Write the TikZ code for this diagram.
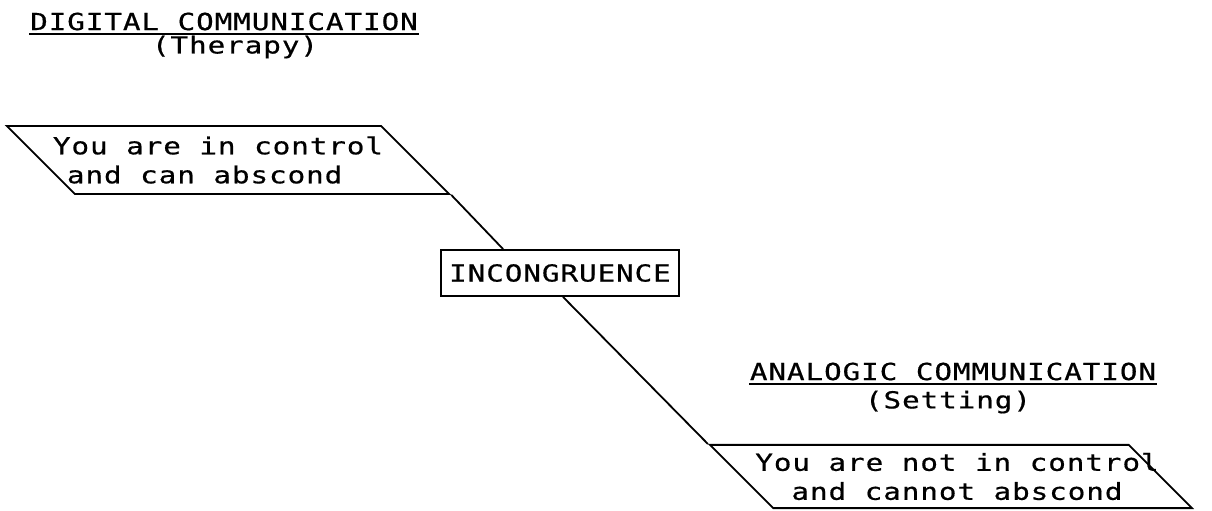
\documentclass[tikz,border=0pt]{standalone}
\usepackage{fontspec}
\newfontfamily\dotfont{DejaVu Sans Mono}[FakeStretch=1.25,LetterSpace=4,FakeBold=0.6]
\usetikzlibrary{shapes.geometric,calc}

\begin{document}
\begin{tikzpicture}[x=0.5pt,y=-0.5pt,line width=0.9pt,
  every node/.style={font=\dotfont\fontsize{11.7}{14.5}\selectfont,inner sep=0pt},
  slab/.style={draw,trapezium,trapezium left angle=135,trapezium right angle=45,
    trapezium stretches body}]
\useasboundingbox (0,0) rectangle (1212,510);

% the two headings, underlined
\node (dig) [inner ysep=1.5pt] at (224,21.5) {DIGITAL COMMUNICATION};
\draw[line width=1.1pt] (dig.south west) -- (dig.south east);
\node (ther) at (235,47) {(Therapy)};
\node (ana) [inner ysep=1.5pt] at (953,371.5) {ANALOGIC COMMUNICATION};
\draw[line width=1.1pt] (ana.south west) -- (ana.south east);
\node (set) at (948,402) {(Setting)};

% the two messages
\node (you) [slab,inner xsep=-11pt,inner ysep=5.2pt,align=left] at (228,160)
  {You are in control\hspace*{10pt}\\\hspace*{7pt}and can abscond};
\node (notyou) [slab,inner xsep=-15pt,inner ysep=4pt,align=center] at (951,476.5)
  {\hspace*{6pt}You are not in control\\\hspace*{6pt}and cannot abscond};

\node (inc) [draw,minimum width=119pt,minimum height=23pt] at (560,273) {INCONGRUENCE};

% the slanted line runs through the middle box
\coordinate (incin) at ($(inc.north west)+(63,0)$);
\coordinate (incout) at ($(inc.south)+(3,0)$);
\draw (you.bottom right corner) -- (incin);
\draw (incout) -- (notyou.top left corner);

\end{tikzpicture}
\end{document}
